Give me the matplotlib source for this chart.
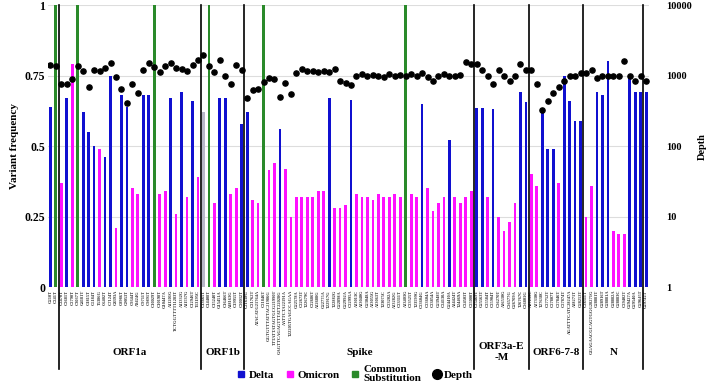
import matplotlib
matplotlib.use("Agg")
import matplotlib.pyplot as plt
from matplotlib.lines import Line2D
import matplotlib.transforms as mtransforms

# mutation labels (genome order)
labels = [
    "G210T", "C241T",
    # ORF1a
    "C2470T", "C2681T", "C2790T", "C3037T", "G4181T", "C4815T", "C5184T", "T5386G",
    "C6402T", "C7124T", "G8393A", "C8986T", "G9053T", "C9344T", "A9424G", "C9711T",
    "C9891T", "C10029T", "C10198T", "G10447A", "A11201G", "TCTGGTTTT11283T", "A11332G",
    "A11537G", "C12946T", "T13195C",
    # ORF1b
    "C13665T", "C14408T", "C15240T", "G15451A", "C16466T", "A18163G", "C19955T", "C20032T",
    # Spike
    "C21618G", "C21762T", "ATACATG21764A", "C21846T", "GGTGTTTATTAC21986G",
    "TTTATTATAGTGCG21990T", "GAGTTCAGAGTTTATT22028G", "AATTCTA22191A",
    "T22205TGAGCCAGAA", "G22578A", "C22673T", "T22679C", "C22686T", "A22688G",
    "G22775A", "T22917G", "T22882G", "G22898A", "G22992A", "C22995A", "A23013C",
    "A23040G", "G23048A", "A23055G", "A23063T", "T23075C", "C23202A", "A23282G",
    "C23311T", "A23403G", "C23525T", "T23599G", "C23604G", "C23604A", "C23854A",
    "G23948T", "C24130A", "G24410A", "A24424T", "T24469A", "C24503T", "C25000T",
    # ORF3a-E-M
    "C25469T", "G25563T", "C25584T", "C25904T", "C26270T", "A26530G", "C26577G",
    "G26709A", "T26767C", "C26801G",
    # ORF6-7-8
    "A27259C", "A27330G", "T27638C", "C27752T", "C27807T", "C27846T", "C27874T",
    "AGATTTCATC28247A", "A28271T", "G28253T",
    # N
    "C28311T", "GGAGAACGCAGTGGG28271G", "G28881T", "G28916T", "G28881A", "G28882A",
    "G28883C", "C29402T", "G29427A", "G29540A", "G29645T",
    "G29742T",
]

# D = Delta, O = Omicron, C = common substitution, X = other
var_type = list(
    "DC"
    + "ODOCDDDODDODDOODDCOODODODO"
    + "XCODDOOD"
    + "DOOCOOD" + "OOOOOOOO" + "D" + "OOO" + "D" + "OOOOOOOOO" + "C" + "OO" + "D"
    + "OOOO" + "D" + "OOOO"
    + "DDODOOOODD"
    + "OODDDODDDD"
    + "OODDDOOODDD"
    + "D"
)

freq = [
    0.64, 1.0,
    0.37, 0.67, 0.79, 1.0, 0.62, 0.55, 0.50, 0.49, 0.46, 0.75, 0.21, 0.68, 0.64,
    0.35, 0.33, 0.68, 0.68, 1.0, 0.33, 0.34, 0.67, 0.26, 0.69, 0.32, 0.66, 0.39,
    0.62, 1.0, 0.30, 0.67, 0.67, 0.33, 0.35, 0.58,
    0.62, 0.31, 0.30, 1.0, 0.415, 0.44, 0.56, 0.42, 0.25, 0.32, 0.32, 0.32, 0.32,
    0.34, 0.34, 0.67, 0.28, 0.28, 0.29, 0.665, 0.33, 0.32, 0.32, 0.31, 0.33, 0.32,
    0.32, 0.33, 0.32, 1.0, 0.33, 0.32, 0.65, 0.35, 0.27, 0.30, 0.32, 0.52, 0.32,
    0.30, 0.32, 0.34,
    0.635, 0.635, 0.32, 0.63, 0.25, 0.20, 0.23, 0.30, 0.69, 0.655,
    0.40, 0.36, 0.62, 0.49, 0.49, 0.37, 0.75, 0.66, 0.59, 0.59,
    0.25, 0.36, 0.69, 0.68, 0.80, 0.20, 0.19, 0.19, 0.75, 0.69, 0.69,
    0.69,
]

depth = [
    1410, 1350,
    760, 760, 890, 1350, 1150, 690, 1200, 1150, 1260, 1510, 955, 645, 410,
    760, 575, 1200, 1510, 1320, 1120, 1380, 1510, 1260, 1230, 1150, 1410, 1660,
    1950, 1380, 1120, 1660, 980, 760, 1410, 1200,
    480, 620, 645, 810, 930, 890, 500, 795, 550, 1100, 1230, 1175, 1175,
    1120, 1175, 1120, 1230, 850, 795, 725, 1000, 1050, 980, 1020, 1000, 960,
    1040, 990, 1010, 1000, 1050, 980, 1100, 960, 850, 1000, 1040, 1000, 980,
    1020, 1550, 1450,
    1450, 1200, 1000, 760, 1200, 1000, 830, 1000, 1450, 1200,
    1200, 760, 330, 435, 575, 690, 830, 1000, 1000, 1100,
    1100, 1200, 910, 1000, 1000, 1000, 1000, 1585, 1000, 830, 980,
    830,
]

regions = ["ORF1a", "ORF1b", "Spike", "ORF3a-E\n-M", "ORF6-7-8", "N"]
region_bounds = [1.5, 27.5, 35.5, 77.5, 87.5, 97.5, 108.5]

colors = {"D": "#1010d0", "O": "#ff10ff", "C": "#2a8a2a", "X": "#b8b8c8"}

plt.rcParams["font.family"] = ["Liberation Serif", "DejaVu Serif"]
plt.rcParams["font.weight"] = "bold"

fig = plt.figure(figsize=(7.09, 3.86), dpi=100)
ax = fig.add_axes([0.068, 0.256, 0.848, 0.731])

x = list(range(len(freq)))
ax.bar(x, freq, width=0.5, color=[colors[t] for t in var_type], zorder=2)
ax.set_xlim(-0.4, len(freq) - 0.4)
ax.set_ylim(0, 1)
ax.set_yticks([0, 0.25, 0.5, 0.75, 1])
ax.set_yticklabels(["0", "0.25", "0.5", "0.75", "1"], fontsize=8.5, fontweight="bold")
ax.set_ylabel("Variant frequency", fontsize=8, fontweight="bold", labelpad=4)
ax.grid(axis="y", color="#dddddd", linewidth=0.8, zorder=0)
ax.set_xticks(x)
ax.set_xticklabels(labels, rotation=90, fontsize=3.2, color="#333333")
ax.tick_params(length=0, pad=2)
for s in ax.spines.values():
    s.set_visible(False)

ax2 = ax.twinx()
ax2.scatter(x, depth, s=14, color="black", zorder=3)
ax2.set_yscale("log")
ax2.set_ylim(1, 10000)
ax2.set_yticks([1, 10, 100, 1000, 10000])
ax2.set_yticklabels(["1", "10", "100", "1000", "10000"], fontsize=7.5, fontweight="bold")
ax2.minorticks_off()
ax2.tick_params(length=0, pad=12)
ax2.set_ylabel("Depth", fontsize=7.5, fontweight="bold", labelpad=4)
for s in ax2.spines.values():
    s.set_visible(False)

# section separators and names
trans = mtransforms.blended_transform_factory(ax.transData, ax.transAxes)
for b in region_bounds:
    ax.plot([b, b], [1.0, -0.29], transform=trans, color="black", lw=1.2,
            clip_on=False, zorder=4)
for name, lo, hi in zip(regions, region_bounds[:-1], region_bounds[1:]):
    ax.text((lo + hi) / 2, -0.23, name, transform=trans, ha="center", va="center",
            fontsize=8, fontweight="bold", linespacing=1.3)

handles = [
    Line2D([], [], marker="s", linestyle="none", color=colors["D"], markersize=5),
    Line2D([], [], marker="s", linestyle="none", color=colors["O"], markersize=5),
    Line2D([], [], marker="s", linestyle="none", color=colors["C"], markersize=5),
    Line2D([], [], marker="o", linestyle="none", color="black", markersize=7),
]
fig.legend(handles, ["Delta", "Omicron", "Common\nSubstitution", "Depth"],
           loc="center", bbox_to_anchor=(0.5, 1 - 374 / 386), ncol=4, frameon=False,
           prop={"family": "Liberation Serif", "weight": "bold", "size": 8},
           handletextpad=0.2, columnspacing=0.9, handlelength=1.0, borderpad=0,
           labelspacing=0.2)
for t in fig.legends[0].get_texts():
    t.set_linespacing(1.0)

fig.savefig("out.png", dpi=100)
